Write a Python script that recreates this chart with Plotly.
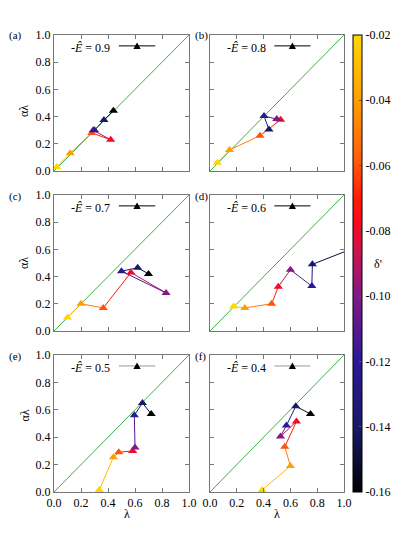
import plotly.graph_objects as go
from plotly.colors import sample_colorscale

# delta' value of every point (same order in each panel)
DELTA = [-0.02, -0.04, -0.06, -0.08, -0.10, -0.12, -0.14, -0.16]
E_HAT = [0.9, 0.8, 0.7, 0.6, 0.5, 0.4]
PANEL_TAGS = ["(a)", "(b)", "(c)", "(d)", "(e)", "(f)"]

LAM_A = [0.02, 0.12, 0.28, 0.42, 0.29, 0.30, 0.37, 0.44]
ALAM_A = [0.03, 0.13, 0.28, 0.23, 0.30, 0.30, 0.375, 0.443]
LAM_B = [0.055, 0.146, 0.373, 0.527, 0.498, 0.403, 0.44]
ALAM_B = [0.06, 0.155, 0.26, 0.377, 0.382, 0.404, 0.306]
LAM_C = [0.10, 0.20, 0.365, 0.57, 0.83, 0.50, 0.62, 0.70]
ALAM_C = [0.10, 0.20, 0.17, 0.43, 0.28, 0.44, 0.465, 0.42]
LAM_D = [0.176, 0.26, 0.46, 0.51, 0.60, 0.76, 0.764, 1.15]
ALAM_D = [0.18, 0.17, 0.20, 0.326, 0.45, 0.33, 0.49, 0.64]
LAM_E = [0.335, 0.44, 0.48, 0.583, 0.60, 0.595, 0.655, 0.72]
ALAM_E = [0.015, 0.254, 0.29, 0.30, 0.325, 0.56, 0.65, 0.57]
LAM_F = [0.39, 0.60, 0.558, 0.645, 0.526, 0.57, 0.64, 0.75]
ALAM_F = [0.015, 0.19, 0.33, 0.515, 0.405, 0.485, 0.625, 0.57]

PANELS = [
    (LAM_A, ALAM_A), (LAM_B, ALAM_B), (LAM_C, ALAM_C),
    (LAM_D, ALAM_D), (LAM_E, ALAM_E), (LAM_F, ALAM_F),
]

CB_TICKS = [-0.02, -0.04, -0.06, -0.08, -0.10, -0.12, -0.14, -0.16]
CMIN, CMAX = -0.16, -0.02

PALETTE = [
    [0.0, "rgb(0,0,0)"],
    [0.14, "rgb(25,25,105)"],
    [0.29, "rgb(45,25,150)"],
    [0.43, "rgb(130,25,135)"],
    [0.53, "rgb(205,20,75)"],
    [0.58, "rgb(245,10,35)"],
    [0.64, "rgb(255,25,5)"],
    [0.73, "rgb(255,95,15)"],
    [0.86, "rgb(255,160,0)"],
    [1.0, "rgb(255,215,0)"],
]

W, H = 415, 535
PAGE_OFFSET = 8  # default body margin of the html page
FONT = "Liberation Serif, Times New Roman, Times, serif"
COL_X = [(54, 189), (210, 344)]
ROW_Y = [(35, 171), (195, 331), (355, 492)]
TAG_X = [7, 193]


def px_x(v):
    return (v - PAGE_OFFSET) / W


def px_y(v):
    return 1 - (v - PAGE_OFFSET) / H


def norm(d):
    return (d - CMIN) / (CMAX - CMIN)


fig = go.Figure()
annotations = []
shapes = []

for k, (lam, alam) in enumerate(PANELS):
    row, col = divmod(k, 2)
    n = "" if k == 0 else str(k + 1)
    xa, ya = "x" + n, "y" + n
    dvals = DELTA[: len(lam)]

    # coloured connecting segments
    for i in range(len(lam) - 1):
        c = sample_colorscale(PALETTE, [(norm(dvals[i]) + norm(dvals[i + 1])) / 2])[0]
        fig.add_trace(go.Scatter(
            x=lam[i:i + 2], y=alam[i:i + 2], mode="lines",
            line=dict(color=c, width=1), xaxis=xa, yaxis=ya,
            showlegend=False, hoverinfo="skip",
        ))
    fig.add_trace(go.Scatter(
        x=lam, y=alam, mode="markers",
        marker=dict(symbol="triangle-up", size=8, color=dvals,
                    coloraxis="coloraxis", line=dict(width=0)),
        xaxis=xa, yaxis=ya, showlegend=False,
    ))

    x0, x1 = COL_X[col]
    y0, y1 = ROW_Y[row]
    fig.update_layout({
        "xaxis" + n: dict(
            domain=[px_x(x0), px_x(x1)], anchor=ya, range=[0, 1],
            tickvals=[0, 0.2, 0.4, 0.6, 0.8, 1.0], tickformat=".1f",
            showticklabels=(row == 2),
        ),
        "yaxis" + n: dict(
            domain=[px_y(y1), px_y(y0)], anchor=xa, range=[0, 1],
            tickvals=[0, 0.2, 0.4, 0.6, 0.8, 1.0], tickformat=".1f",
            showticklabels=(col == 0),
        ),
    })

    # y = x guide
    shapes.append(dict(type="line", xref=xa, yref=ya, x0=0, y0=0, x1=1, y1=1,
                       line=dict(color="#3cb043", width=1), layer="below"))

    # key: "-E = value" with line and triangle
    key_col = "#999999" if row == 2 else "black"
    shapes.append(dict(type="line", xref=xa + " domain", yref=ya + " domain",
                       x0=0.48, x1=0.75, y0=0.92, y1=0.92,
                       line=dict(color=key_col, width=1)))
    shapes.append(dict(type="path", xref=xa + " domain", yref=ya + " domain",
                       path="M 0.588 0.897 L 0.642 0.897 L 0.615 0.945 Z",
                       fillcolor="black", line=dict(width=0)))
    annotations.append(dict(
        xref=xa + " domain", yref=ya + " domain", x=0.43, y=0.905,
        xanchor="right", yanchor="middle", showarrow=False,
        text="-<i>Ê</i> = %.1f" % E_HAT[k], font=dict(size=12, family=FONT),
    ))
    annotations.append(dict(
        xref="paper", yref="paper", x=px_x(TAG_X[col]),
        y=px_y(y0 + 1), xanchor="left", yanchor="middle", showarrow=False,
        text=PANEL_TAGS[k], font=dict(size=11, family=FONT),
    ))
    if col == 0:
        annotations.append(dict(
            xref="paper", yref="paper", x=px_x(15), y=px_y((y0 + y1) / 2),
            textangle=-90, showarrow=False, text="αλ", font=dict(size=12, family=FONT),
        ))
    if row == 2:
        annotations.append(dict(
            xref="paper", yref="paper", x=px_x((x0 + x1) / 2), y=px_y(523),
            showarrow=False, text="λ", font=dict(size=12, family=FONT),
        ))

annotations.append(dict(
    xref="paper", yref="paper", x=px_x(384), y=px_y(264),
    showarrow=False, text="δ'", font=dict(size=12, family=FONT),
))

axis_style = dict(showgrid=False, zeroline=False, showline=True, linecolor="#777777",
                  linewidth=1, mirror="ticks", ticks="inside", ticklen=4,
                  tickcolor="#777777", tickfont=dict(size=12, family=FONT))
fig.update_xaxes(**axis_style)
fig.update_yaxes(**axis_style)

fig.update_layout(
    width=W, height=H,
    margin=dict(l=0, r=0, t=0, b=0, autoexpand=False),
    paper_bgcolor="white", plot_bgcolor="white",
    font=dict(family=FONT, color="black"),
    coloraxis=dict(
        colorscale=PALETTE, cmin=CMIN, cmax=CMAX,
        colorbar=dict(
            x=px_x(353), xanchor="left", xpad=0,
            y=px_y(492), yanchor="bottom", ypad=0,
            len=457, lenmode="pixels", thickness=9,
            outlinewidth=1, outlinecolor="black",
            tickvals=CB_TICKS, ticktext=["%.2f" % v for v in CB_TICKS],
            ticks="inside", ticklen=3, tickcolor="#555555",
            tickfont=dict(size=12, family=FONT),
        ),
    ),
    shapes=shapes,
    annotations=annotations,
)

fig.write_html("out.html")
